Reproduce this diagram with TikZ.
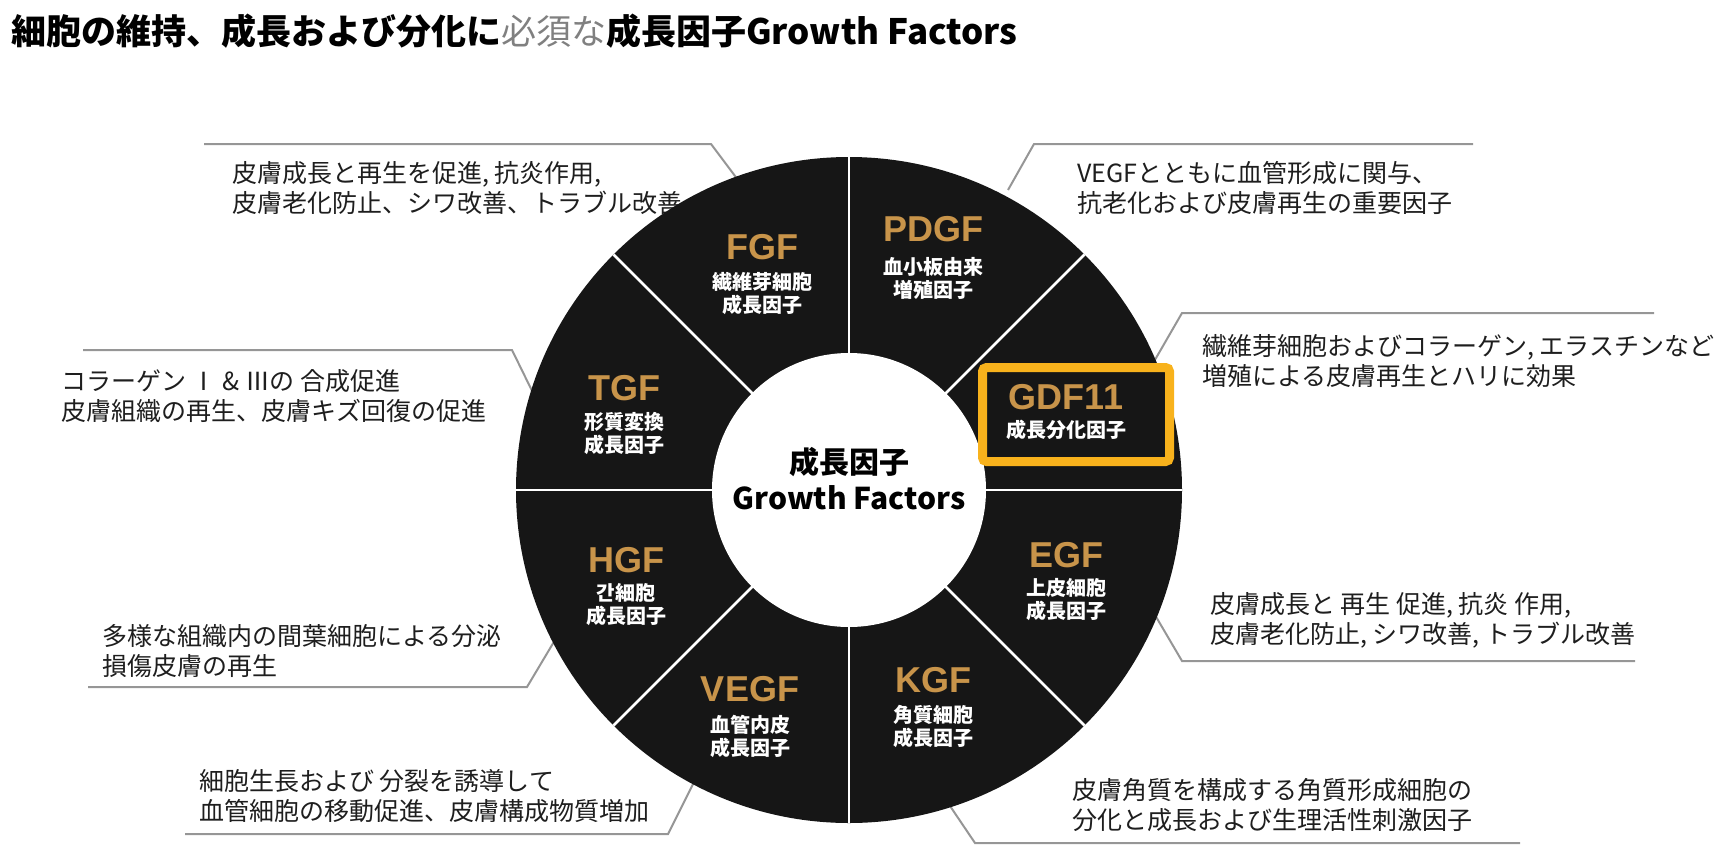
\documentclass[tikz,border=0pt]{standalone}
\usepackage{fontspec}
\usepackage{tikz}
\usetikzlibrary{positioning}
\newfontfamily\jpfont{Noto Sans CJK JP}
\newfontfamily\latfont{Liberation Sans}
\definecolor{mygold}{RGB}{200,148,74}
\definecolor{myblack}{RGB}{22,22,22}
\definecolor{myorange}{RGB}{248,178,28}
\definecolor{myline}{RGB}{150,150,150}
\definecolor{mytext}{RGB}{30,30,30}
\tikzset{
    mytitle/.style = {align=center, inner sep=0pt, text=mygold, font=\latfont\bfseries\fontsize{36}{40}\selectfont},
    mysub/.style = {align=center, inner sep=0pt, text=white, font=\jpfont\bfseries\fontsize{20}{23}\selectfont},
    mydesc/.style = {align=left, anchor=west, inner sep=0pt, text=mytext, font=\jpfont\fontsize{25}{30}\selectfont},
    mycenter/.style = {align=center, inner sep=0pt, text=black, font=\jpfont\bfseries\fontsize{30}{36}\selectfont},
    mybox/.style = {rectangle, line width=9pt, draw=myorange, fill=myblack, rounded corners=4pt, minimum width=187pt, minimum height=94pt},
    edgeg/.style = {-, line width=2pt, myline}, % callout
    edgew/.style = {-, line width=2.5pt, white}, % divider
}

\begin{document}
\begin{tikzpicture}[x=1pt,y=-1pt]
%
\node[anchor=west, inner sep=0pt, font=\jpfont\bfseries\fontsize{35}{40}\selectfont] at (11,31) (title) {細胞の維持、成長および分化に{\mdseries\color{gray}必須な}成長因子Growth Factors};
%
\node[mydesc] at (232,188) (dfgf) {皮膚成長と再生を促進, 抗炎作用,\\皮膚老化防止、シワ改善、トラブル改善};
\node[mydesc] at (1077,188) (dpdgf) {VEGFとともに血管形成に関与、\\抗老化および皮膚再生の重要因子};
\node[mydesc] at (1202,361) (dgdf) {繊維芽細胞およびコラーゲン, エラスチンなど\\増殖による皮膚再生とハリに効果};
\node[mydesc] at (61,396) (dtgf) {コラーゲン Ⅰ \& Ⅲの 合成促進\\皮膚組織の再生、皮膚キズ回復の促進};
\node[mydesc] at (102,651) (dhgf) {多様な組織内の間葉細胞による分泌\\損傷皮膚の再生};
\node[mydesc] at (199,796) (dvegf) {細胞生長および 分裂を誘導して\\血管細胞の移動促進、皮膚構成物質増加};
\node[mydesc] at (1072,805) (dkgf) {皮膚角質を構成する角質形成細胞の\\分化と成長および生理活性刺激因子};
\node[mydesc] at (1210,620) (degf) {皮膚成長と 再生 促進, 抗炎 作用,\\皮膚老化防止, シワ改善, トラブル改善};
%
\coordinate (fgfa) at (738,180);
\coordinate (fgfb) at (711,144);
\coordinate (fgfc) at (204,144);
\coordinate (pdgfa) at (1008,190);
\coordinate (pdgfb) at (1034,144);
\coordinate (pdgfc) at (1473,144);
\coordinate (gdfa) at (1152,365);
\coordinate (gdfb) at (1182,313);
\coordinate (gdfc) at (1654,313);
\coordinate (tgfa) at (538,403);
\coordinate (tgfb) at (512,350);
\coordinate (tgfc) at (83,350);
\coordinate (hgfa) at (558,635);
\coordinate (hgfb) at (527,687);
\coordinate (hgfc) at (88,687);
\coordinate (vegfa) at (695,780);
\coordinate (vegfb) at (668,834);
\coordinate (vegfc) at (185,834);
\coordinate (kgfa) at (948,803);
\coordinate (kgfb) at (975,843);
\coordinate (kgfc) at (1520,843);
\coordinate (egfa) at (1155,615);
\coordinate (egfb) at (1182,661);
\coordinate (egfc) at (1635,661);
%
\draw[edgeg] (fgfa) -- (fgfb) -- (fgfc);
\draw[edgeg] (pdgfa) -- (pdgfb) -- (pdgfc);
\draw[edgeg] (gdfa) -- (gdfb) -- (gdfc);
\draw[edgeg] (tgfa) -- (tgfb) -- (tgfc);
\draw[edgeg] (hgfa) -- (hgfb) -- (hgfc);
\draw[edgeg] (vegfa) -- (vegfb) -- (vegfc);
\draw[edgeg] (kgfa) -- (kgfb) -- (kgfc);
\draw[edgeg] (egfa) -- (egfb) -- (egfc);
%
\coordinate (c) at (849,490);
\fill[myblack] (c) circle[radius=333pt];
\draw[edgew] (849,157) -- (849,823);
\draw[edgew] (516,490) -- (1182,490);
\draw[edgew] (613.5,254.5) -- (1084.5,725.5);
\draw[edgew] (613.5,725.5) -- (1084.5,254.5);
\fill[white] (c) circle[radius=137pt];
\node[mybox] at (1076,414.5) (gbox) {};
%
\node[mytitle] at (762,247) (fgf) {FGF};
\node[mysub] at (762,294) (fgfsub) {繊維芽細胞\\成長因子};
\node[mytitle] at (933,229) (pdgf) {PDGF};
\node[mysub] at (933,278) (pdgfsub) {血小板由来\\増殖因子};
\node[mytitle] at (1066,397) (gdf) {GDF11};
\node[mysub] at (1066,430) (gdfsub) {成長分化因子};
\node[mytitle] at (1066,555) (egf) {EGF};
\node[mysub] at (1066,600) (egfsub) {上皮細胞\\成長因子};
\node[mytitle] at (933,680) (kgf) {KGF};
\node[mysub] at (933,726) (kgfsub) {角質細胞\\成長因子};
\node[mytitle] at (750,689) (vegf) {VEGF};
\node[mysub] at (750,736) (vegfsub) {血管内皮\\成長因子};
\node[mytitle] at (626,560) (hgf) {HGF};
\node[mysub] at (626,605) (hgfsub) {간細胞\\成長因子};
\node[mytitle] at (624,388) (tgf) {TGF};
\node[mysub] at (624,434) (tgfsub) {形質変換\\成長因子};
%
\node[mycenter] at (849,479) (gf) {成長因子\\Growth Factors};

\path[use as bounding box] (0,0) rectangle (1733,860);

\end{tikzpicture}
\end{document}
